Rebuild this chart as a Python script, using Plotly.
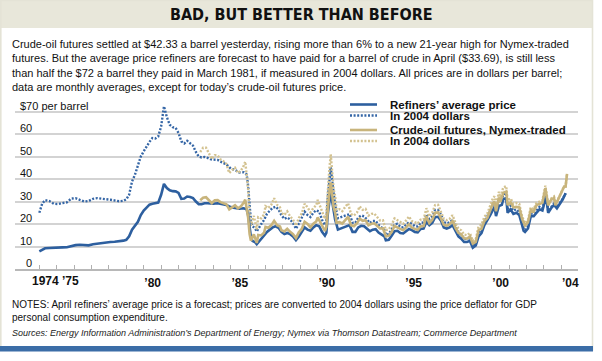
import plotly.graph_objects as go

# ---------------- data ----------------
ref_dates = ["1974-01","1974-03","1974-05","1974-08","1974-11","1975-02","1975-05","1975-08","1975-11",
             "1976-02","1976-05","1976-08","1976-11","1977-02","1977-05","1977-08","1977-11",
             "1978-02","1978-05","1978-08","1978-11","1979-01","1979-03","1979-05","1979-07","1979-09","1979-11",
             "1980-01","1980-03","1980-05","1980-07","1980-09","1980-11","1981-01","1981-03","1981-05","1981-07",
             "1981-09","1981-11","1982-01","1982-03","1982-05","1982-07","1982-09","1982-11","1983-01","1983-03",
             "1983-05","1983-07","1983-09","1983-11","1984-01","1984-04","1984-07","1984-10","1985-01","1985-04",
             "1985-07","1985-10","1985-12","1986-01","1986-02","1986-03","1986-04","1986-06","1986-07","1986-08",
             "1986-10","1986-12","1987-02","1987-04","1987-06","1987-08","1987-10","1987-12","1988-02","1988-04",
             "1988-06","1988-08","1988-10","1988-12","1989-02","1989-04","1989-06","1989-08","1989-10","1989-12",
             "1990-02","1990-04","1990-06","1990-07","1990-08","1990-09","1990-10","1990-11","1990-12","1991-01",
             "1991-03","1991-05","1991-07","1991-09","1991-11","1992-01","1992-03","1992-05","1992-07","1992-09",
             "1992-11","1993-01","1993-03","1993-05","1993-07","1993-09","1993-11","1993-12","1994-02","1994-04",
             "1994-06","1994-08","1994-10","1994-12","1995-02","1995-04","1995-06","1995-08","1995-10","1995-12",
             "1996-02","1996-04","1996-06","1996-08","1996-10","1996-12","1997-02","1997-04","1997-06","1997-08",
             "1997-10","1997-12","1998-02","1998-04","1998-06","1998-08","1998-10","1998-12","1999-02","1999-04",
             "1999-06","1999-08","1999-10","1999-12","2000-02","2000-03","2000-04","2000-06","2000-08","2000-09",
             "2000-11","2000-12","2001-02","2001-04","2001-06","2001-08","2001-10","2001-11","2001-12","2002-02",
             "2002-04","2002-06","2002-08","2002-10","2002-12","2003-02","2003-03","2003-04","2003-06","2003-08",
             "2003-10","2003-12","2004-02","2004-04"]
ref_nominal = [7.8,8.6,9.2,9.3,9.5,9.5,9.6,9.7,10.3,
               10.6,10.8,10.5,10.5,11.0,11.3,11.6,11.9,
               12.0,12.1,12.2,12.6,13.0,14.5,17.5,19.0,21.0,24.0,
               26.0,27.3,28.6,29.0,29.3,29.5,33.0,37.8,36.0,35.0,
               34.6,34.5,33.8,31.2,31.3,32.2,32.0,31.5,30.0,28.8,
               28.8,29.2,29.2,29.0,29.0,29.2,28.8,28.4,27.5,27.3,
               26.8,27.0,26.5,24.0,18.5,14.0,12.5,11.8,11.0,11.8,
               13.2,14.5,16.5,17.5,18.5,19.0,18.3,16.5,15.5,16.0,
               15.5,14.5,12.8,14.5,16.5,18.5,17.5,17.0,18.5,19.5,
               19.0,16.5,14.8,16.0,24.5,31.0,34.5,30.0,25.0,22.0,
               17.5,18.0,18.5,19.0,19.5,16.5,16.5,18.5,19.2,19.0,
               18.0,16.8,17.5,17.7,16.2,15.5,14.5,12.8,13.0,14.8,
               16.8,17.0,16.0,15.8,16.8,17.8,17.3,16.5,16.3,17.8,
               18.0,21.0,19.5,20.5,23.0,23.2,21.5,18.5,18.0,18.5,
               19.5,17.3,14.5,13.5,12.0,12.0,12.5,9.5,10.5,14.5,
               16.0,19.5,21.5,24.0,26.5,27.5,23.5,28.0,28.5,31.0,
               31.5,25.0,26.5,24.5,25.0,24.0,19.5,17.0,16.5,18.0,
               23.5,23.5,25.0,26.5,26.0,31.0,30.5,25.0,27.0,28.5,
               27.0,29.0,31.0,33.7]
ref_real = [25.0,29.0,30.6,30.2,29.0,28.9,29.3,29.6,31.3,
            31.5,30.7,30.0,30.2,31.2,31.5,31.4,31.0,
            30.8,30.5,30.1,30.3,31.0,33.0,38.9,41.9,45.6,50.0,
            52.3,54.5,56.5,58.2,58.0,58.9,63.4,72.3,67.5,64.1,
            63.0,62.7,60.5,56.7,55.8,57.0,56.0,54.8,52.0,50.0,
            49.6,49.8,49.4,48.8,48.6,48.5,47.4,46.5,44.6,44.0,
            42.9,43.0,42.0,37.0,28.5,21.4,19.1,17.9,16.7,17.9,
            19.9,21.8,24.6,25.9,27.2,27.7,26.5,23.9,22.3,22.9,
            22.0,20.4,17.9,20.2,22.8,25.5,24.0,23.1,25.0,26.1,
            25.5,21.9,19.5,21.1,32.1,40.6,45.2,39.0,32.5,28.4,
            22.6,23.0,23.5,23.9,24.4,20.6,20.5,22.9,23.8,23.4,
            22.1,20.5,21.4,21.4,19.6,18.6,17.4,15.2,15.5,17.6,
            19.8,20.1,18.7,18.5,19.7,20.8,20.1,19.1,18.9,20.5,
            20.7,24.2,22.2,23.4,26.2,26.2,24.3,20.9,20.3,20.7,
            21.8,19.4,16.2,15.1,13.4,13.3,13.9,10.5,11.6,16.0,
            17.6,21.3,23.4,26.2,28.6,29.7,25.4,30.2,30.5,33.2,
            33.7,26.8,28.1,26.0,26.5,25.4,20.5,17.9,17.3,18.9,
            24.6,24.6,26.0,27.6,26.9,31.9,31.4,25.6,27.5,29.1,
            27.4,29.3,31.2,33.7]

fut_dates = ["1983-04","1983-06","1983-08","1983-10","1983-12","1984-02","1984-04","1984-06","1984-08","1984-10",
             "1984-12","1985-02","1985-04","1985-06","1985-08","1985-10","1985-11","1985-12","1986-01","1986-02",
             "1986-03","1986-05","1986-07","1986-08","1986-10","1986-12","1987-01","1987-03","1987-05","1987-07",
             "1987-09","1987-11","1987-12","1988-02","1988-04","1988-06","1988-08","1988-10","1988-12","1989-02",
             "1989-04","1989-06","1989-08","1989-10","1989-12","1990-01","1990-03","1990-06","1990-07","1990-08",
             "1990-09","1990-10","1990-11","1990-12","1991-01","1991-02","1991-04","1991-06","1991-08","1991-10",
             "1991-12","1992-02","1992-04","1992-06","1992-08","1992-10","1992-12","1993-02","1993-04","1993-06",
             "1993-08","1993-10","1993-12","1994-02","1994-04","1994-06","1994-08","1994-10","1994-12","1995-02",
             "1995-04","1995-06","1995-08","1995-10","1995-12","1996-02","1996-04","1996-06","1996-08","1996-10",
             "1996-12","1997-02","1997-04","1997-06","1997-08","1997-10","1997-12","1998-02","1998-04","1998-06",
             "1998-08","1998-10","1998-12","1999-02","1999-04","1999-06","1999-08","1999-10","1999-12","2000-02",
             "2000-03","2000-04","2000-06","2000-07","2000-09","2000-11","2000-12","2001-02","2001-04","2001-06",
             "2001-08","2001-10","2001-12","2002-02","2002-04","2002-06","2002-08","2002-10","2002-12","2003-02",
             "2003-04","2003-06","2003-08","2003-09","2003-11","2004-01","2004-03","2004-04","2004-05"]
fut_nominal = [30.6,31.7,31.9,30.4,29.3,30.5,30.6,29.7,29.4,28.8,
               26.5,27.5,28.3,27.0,27.8,29.5,30.8,27.0,22.9,15.5,
               12.6,15.4,11.6,15.1,14.9,16.1,18.7,18.3,19.4,21.4,
               19.5,18.9,17.2,16.7,17.9,16.5,15.5,13.8,16.3,17.9,
               21.0,20.0,18.5,20.1,21.1,22.9,20.4,16.9,18.6,27.2,
               33.7,38.5,32.3,27.3,25.2,20.5,20.8,20.2,21.7,23.2,
               19.5,19.0,20.2,22.4,21.4,21.7,19.4,20.1,20.3,19.1,
               18.0,18.1,14.5,14.8,16.4,19.1,18.4,17.7,17.2,18.5,
               19.9,18.4,17.9,17.4,19.0,19.1,23.5,20.4,21.9,24.9,
               25.2,22.2,19.7,19.2,19.9,21.3,18.3,16.1,15.4,13.7,
               13.5,14.4,11.3,12.0,17.3,17.9,21.3,22.6,26.1,29.4,
               29.9,25.7,31.8,29.8,33.9,34.4,28.4,29.6,27.4,27.6,
               27.4,22.2,19.3,20.7,26.2,25.5,28.4,28.8,29.4,35.9,
               28.3,30.7,31.6,28.3,31.1,34.3,36.7,36.7,42.3]
fut_real = [52.0,53.9,53.9,51.1,48.9,50.6,50.5,48.7,47.9,46.7,
            42.7,44.0,45.0,42.7,43.6,46.0,47.7,41.9,35.3,23.9,
            19.3,23.6,17.6,23.0,22.5,24.2,27.9,27.1,28.5,31.5,
            28.5,27.4,24.9,24.0,25.6,23.4,21.9,19.3,22.7,24.7,
            29.0,27.4,25.2,27.1,28.3,30.7,27.1,22.3,24.6,35.6,
            44.1,51.0,42.0,35.5,32.5,26.4,26.6,25.7,27.6,29.2,
            24.4,23.8,25.0,27.8,26.3,26.7,23.7,24.5,24.6,23.1,
            21.6,21.7,17.3,17.6,19.5,22.5,21.7,20.7,20.1,21.6,
            23.3,21.3,20.8,20.2,21.9,22.0,27.0,23.3,25.0,28.4,
            28.5,25.1,22.3,21.7,22.3,23.9,20.5,18.0,17.2,15.3,
            15.0,16.0,12.5,13.2,19.0,19.7,23.2,24.6,28.4,31.8,
            32.3,27.8,34.3,31.9,36.3,36.8,30.4,31.4,29.0,29.3,
            29.0,23.3,20.3,21.7,27.4,26.6,29.5,30.0,30.4,37.0,
            29.0,31.3,32.2,28.7,31.4,34.5,36.7,36.7,42.3]

series_names = ["Refiners’ average price", "In 2004 dollars",
                "Crude-oil futures, Nymex-traded", "In 2004 dollars"]
tick_years = list(range(1974, 2005))
# labels drawn by the axis; the two crowded first labels are placed separately below
tick_label_map = {1980: "’80", 1985: "’85", 1990: "’90", 1995: "’95", 2000: "’00", 2004: "’04"}
early_labels = [("1974-01-01", "1974", 6), ("1975-01-01", "’75", 14)]
y_ticks = [0, 10, 20, 30, 40, 50, 60, 70]

# ---------------- styling ----------------
BLUE = "#2d5f9f"
BLUE_DOT = "#3566a6"
TAN = "#c8b47c"
TAN_DOT = "#d3c290"
FONT = "Liberation Sans, Arial, Helvetica, sans-serif"

W, H = 602, 361
L, R, T, B = 15, 24, 103, 92
PW, PH = W - L - R, H - T - B
YMAX = PH / 2.25


def px(xp):
    return (xp - L) / PW


def py(yp):
    return (H - B - yp) / PH


fig = go.Figure()
fig.add_trace(go.Scatter(x=ref_dates, y=ref_real, mode="lines", name=series_names[1],
                         line=dict(color=BLUE_DOT, width=2.4, dash="2px,1.6px")))
fig.add_trace(go.Scatter(x=fut_dates, y=fut_real, mode="lines", name=series_names[3],
                         line=dict(color=TAN_DOT, width=2.4, dash="2px,1.6px")))
fig.add_trace(go.Scatter(x=ref_dates, y=ref_nominal, mode="lines", name=series_names[0],
                         line=dict(color=BLUE, width=2.6)))
fig.add_trace(go.Scatter(x=fut_dates, y=fut_nominal, mode="lines", name=series_names[2],
                         line=dict(color=TAN, width=2.6)))

shapes = []
annotations = []

# title band and frame
shapes.append(dict(type="rect", xref="paper", yref="paper", x0=px(0), x1=px(593), y0=py(28), y1=py(0),
                   fillcolor="#e8e7da", line=dict(width=0), layer="below"))
shapes.append(dict(type="rect", xref="paper", yref="paper", x0=px(0.8), x1=px(592.5), y0=py(350), y1=py(0.5),
                   fillcolor="rgba(0,0,0,0)", line=dict(color="#e4e3d6", width=1.6), layer="below"))
shapes.append(dict(type="rect", xref="paper", yref="paper", x0=px(0), x1=px(593), y0=py(351.5), y1=py(346),
                   fillcolor="#3b6da7", line=dict(width=0), layer="above"))

# legend knockout boxes
shapes.append(dict(type="rect", xref="paper", yref="paper", x0=px(333), x1=px(538), y0=py(123), y1=py(98),
                   fillcolor="white", line=dict(width=0), layer="between"))
shapes.append(dict(type="rect", xref="paper", yref="paper", x0=px(333), x1=px(573), y0=py(149), y1=py(123),
                   fillcolor="white", line=dict(width=0), layer="between"))

legend_rows = [(104.5, BLUE, None), (115.5, BLUE_DOT, "2px,1.6px"), (130, TAN, None), (141, TAN_DOT, "2px,1.6px")]
for (yy, col, dash), name in zip(legend_rows, series_names):
    ln = dict(color=col, width=2.6)
    if dash:
        ln["dash"] = dash
        ln["width"] = 2.4
    shapes.append(dict(type="line", xref="paper", yref="paper", x0=px(350), x1=px(377), y0=py(yy), y1=py(yy),
                       line=ln, layer="above"))
    annotations.append(dict(text=f"<b>{name}</b>", xref="paper", yref="paper", x=px(388), y=py(yy),
                            xanchor="left", yanchor="middle", showarrow=False,
                            font=dict(family=FONT, size=11.5, color="#111")))

# y tick labels
for v in y_ticks:
    if v == 70:
        annotations.append(dict(text="$70 per barrel", xref="paper", yref="y", x=px(18), y=v,
                                xanchor="left", yanchor="bottom", yshift=-2, showarrow=False,
                                font=dict(family=FONT, size=11, color="#111")))
    else:
        annotations.append(dict(text=str(v), xref="paper", yref="y", x=px(34), y=v,
                                xanchor="right", yanchor="bottom", yshift=-2, showarrow=False,
                                font=dict(family=FONT, size=11, color="#111")))

# first two x labels
for xd, txt, shift in early_labels:
    annotations.append(dict(text=txt, xref="x", yref="paper", x=xd, y=0, xshift=shift, yshift=-12,
                            xanchor="center", yanchor="middle", showarrow=False,
                            font=dict(family=FONT, size=12, color="#111", weight="bold")))

# texts
annotations.append(dict(text="<b>BAD, BUT BETTER THAN BEFORE</b>", xref="paper", yref="paper",
                        x=px(301), y=py(14), xanchor="center", yanchor="middle", showarrow=False,
                        font=dict(family="Liberation Sans Narrow, DejaVu Sans Condensed, Arial Narrow, sans-serif",
                                  size=16, color="#111")))
para = ("Crude-oil futures settled at $42.33 a barrel yesterday, rising more than 6% to a new 21-year high for Nymex-traded<br>"
        "futures. But the average price refiners are forecast to have paid for a barrel of crude in April ($33.69), is still less<br>"
        "than half the $72 a barrel they paid in March 1981, if measured in 2004 dollars. All prices are in dollars per barrel;<br>"
        "data are monthly averages, except for today’s crude-oil futures price.")
annotations.append(dict(text=para, xref="paper", yref="paper", x=px(10), y=py(36),
                        xanchor="left", yanchor="top", align="left", showarrow=False,
                        font=dict(family=FONT, size=11, color="#111")))
notes = ("NOTES: April refiners’ average price is a forecast; prices are converted to 2004 dollars using the price deflator for GDP<br>"
         "personal consumption expenditure.")
annotations.append(dict(text=notes, xref="paper", yref="paper", x=px(10), y=py(297),
                        xanchor="left", yanchor="top", align="left", showarrow=False,
                        font=dict(family=FONT, size=10, color="#111")))
annotations.append(dict(text="<i>Sources: Energy Information Administration’s Department of Energy; Nymex via Thomson Datastream; Commerce Department</i>",
                        xref="paper", yref="paper", x=px(10), y=py(333), xanchor="left", yanchor="middle",
                        align="left", showarrow=False, font=dict(family=FONT, size=9, color="#222")))

fig.update_layout(
    width=W, height=H, margin=dict(l=L, r=R, t=T, b=B, pad=0, autoexpand=False),
    paper_bgcolor="white", plot_bgcolor="rgba(0,0,0,0)",
    showlegend=False, shapes=shapes, annotations=annotations,
    xaxis=dict(type="date", range=["1972-08-08", "2004-12-17"], showgrid=False, automargin=False,
               showline=True, linecolor="#b8b8b8", linewidth=1.5,
               ticks="inside", ticklen=4, tickwidth=1, tickcolor="#b0b0b0",
               tickvals=[f"{y}-01-01" for y in tick_years],
               ticktext=[tick_label_map.get(y, "") for y in tick_years],
               tickangle=0, ticklabelshift=9, ticklabelstandoff=2,
               tickfont=dict(family=FONT, size=12, color="#111", weight="bold"), fixedrange=True),
    yaxis=dict(range=[0, YMAX], tickvals=y_ticks, showticklabels=False, showgrid=True, automargin=False,
               gridcolor="#d3d3d3", gridwidth=1.6, zeroline=False, showline=False, fixedrange=True),
)

fig.write_html("out.html", config={"displayModeBar": False},
               post_script="document.body.style.margin='0';document.body.style.padding='0';")
